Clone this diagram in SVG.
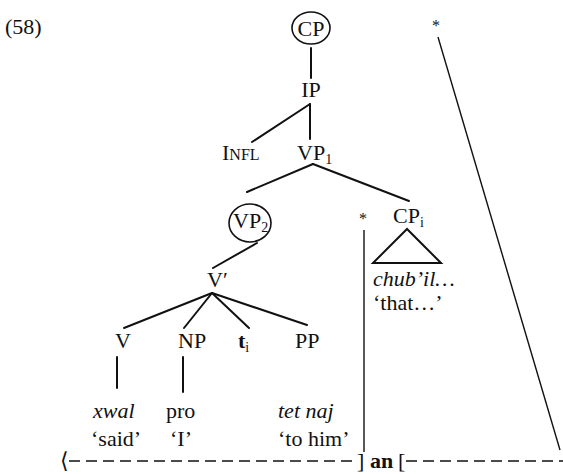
<svg xmlns="http://www.w3.org/2000/svg" width="563" height="474" viewBox="0 0 563 474">
<style>
text{font-family:"Liberation Serif","Times New Roman",serif;fill:#111;font-size:22px}
.it{font-style:italic}
.b{font-weight:bold}
.sub{font-size:14px}
.sc{font-size:16px}
.ast{font-size:16px}
.e{fill:none;stroke:#111;stroke-width:2;stroke-linecap:round}
.thin{fill:none;stroke:#111;stroke-width:1.4}
.ring{fill:none;stroke:#111;stroke-width:1.6}
.dash{stroke:#111;stroke-width:1.4;stroke-dasharray:11 6}
</style>
<rect width="563" height="474" fill="#fff"/>
<text id="label" x="5" y="34" font-size="24">(58)</text>
<g id="connectors">
<line class="e" x1="311" y1="48" x2="311" y2="78"/>
<line class="e" x1="310" y1="104" x2="252" y2="142"/>
<line class="e" x1="310" y1="104" x2="310" y2="139"/>
<line class="e" x1="313" y1="164" x2="247" y2="192"/>
<line class="e" x1="313" y1="164" x2="409" y2="201"/>
<line class="e" x1="257" y1="243" x2="213" y2="268"/>
<line class="e" x1="212" y1="293" x2="124" y2="328"/>
<line class="e" x1="212" y1="293" x2="184" y2="328"/>
<line class="e" x1="212" y1="293" x2="249" y2="328"/>
<line class="e" x1="212" y1="293" x2="307" y2="325"/>
<line class="e" x1="117" y1="357" x2="117" y2="388"/>
<line class="e" x1="183" y1="357" x2="183" y2="392"/>
<line class="thin" x1="364" y1="230" x2="364" y2="452"/>
<line class="thin" x1="438" y1="37" x2="560" y2="450"/>
</g>
<g id="CP"><ellipse class="ring" cx="311" cy="28" rx="19" ry="16"/><text x="311" y="36" text-anchor="middle">CP</text></g>
<g id="IP"><text x="311" y="97" text-anchor="middle">IP</text></g>
<g id="INFL"><text x="222" y="160">I<tspan class="sc">NFL</tspan></text></g>
<g id="VP1"><text x="297" y="160">VP<tspan class="sub" dy="4">1</tspan></text></g>
<g id="VP2"><ellipse class="ring" cx="250" cy="223" rx="21" ry="19"/><text x="233" y="228">VP<tspan class="sub" dy="4">2</tspan></text></g>
<g id="Vbar"><text x="207" y="287">V′</text></g>
<g id="CPi"><text x="393" y="223">CP<tspan class="sub" dy="4">i</tspan></text>
<polygon class="e" points="407,229 373,263 441,263" stroke-linejoin="miter"/>
<text class="it" x="373" y="286">chub’il…</text><text x="373" y="310">‘that…’</text></g>
<g id="star1"><text class="ast" x="363" y="224" text-anchor="middle">*</text></g>
<g id="star2"><text class="ast" x="436" y="31" text-anchor="middle">*</text></g>
<g id="V"><text x="115" y="348">V</text><text class="it" x="93" y="418">xwal</text><text x="91" y="446">‘said’</text></g>
<g id="NP"><text x="178" y="348">NP</text><text x="166" y="418">pro</text><text x="170" y="446">‘I’</text></g>
<g id="t"><text class="b" x="238" y="348">t<tspan class="sub" font-weight="normal" dy="4">i</tspan></text></g>
<g id="PP"><text x="295" y="348">PP</text><text class="it" x="278" y="418">tet naj</text><text x="278" y="446">‘to him’</text></g>
<g id="bracket">
<text x="60" y="468">⟨</text>
<line class="dash" x1="69" y1="461" x2="355" y2="461"/>
<text x="357" y="468">]</text>
<text class="b" x="370" y="468">an</text>
<text x="398" y="468">[</text>
<line class="dash" x1="406" y1="461" x2="563" y2="461"/>
</g>
</svg>
